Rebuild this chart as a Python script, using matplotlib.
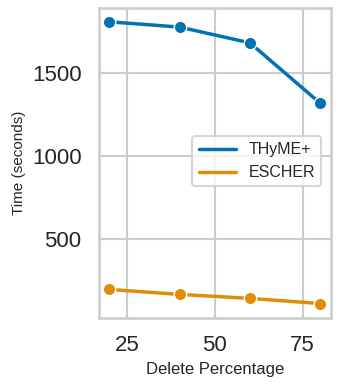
import matplotlib
matplotlib.use("Agg")
import matplotlib.pyplot as plt
from matplotlib.lines import Line2D
import seaborn as sns

x = [20, 40, 60, 80]
thyme = [1808, 1776, 1681, 1317]
escher = [195, 165, 141, 110]
series_names = ["THyME+", "ESCHER"]

sns.set_theme(style="whitegrid", context="talk")
plt.rcParams['font.family'] = ['Liberation Sans', 'DejaVu Sans']
pal = sns.color_palette("colorblind")

fig, ax = plt.subplots(figsize=(3.41, 3.85), dpi=100)
ax.plot(x, thyme, color=pal[0], lw=2.5, marker='o', ms=9, mec='white', mew=1)
ax.plot(x, escher, color=pal[1], lw=2.5, marker='o', ms=9, mec='white', mew=1)
ax.set_xlabel("Delete Percentage", fontsize=12)
ax.set_ylabel("Time (seconds)", fontsize=11)
ax.tick_params(labelsize=16)
ax.set_yticks([500, 1000, 1500])
ax.set_xticks([25, 50, 75])
handles = [Line2D([], [], color=pal[0], lw=2.5), Line2D([], [], color=pal[1], lw=2.5)]
ax.legend(handles, series_names, loc='center right', fontsize=11.5, handlelength=2.3,
          bbox_to_anchor=(1.0, 0.505), borderaxespad=0.6)
fig.subplots_adjust(left=0.29, right=0.97, top=0.98, bottom=0.175)
fig.savefig("out.png", dpi=100)
